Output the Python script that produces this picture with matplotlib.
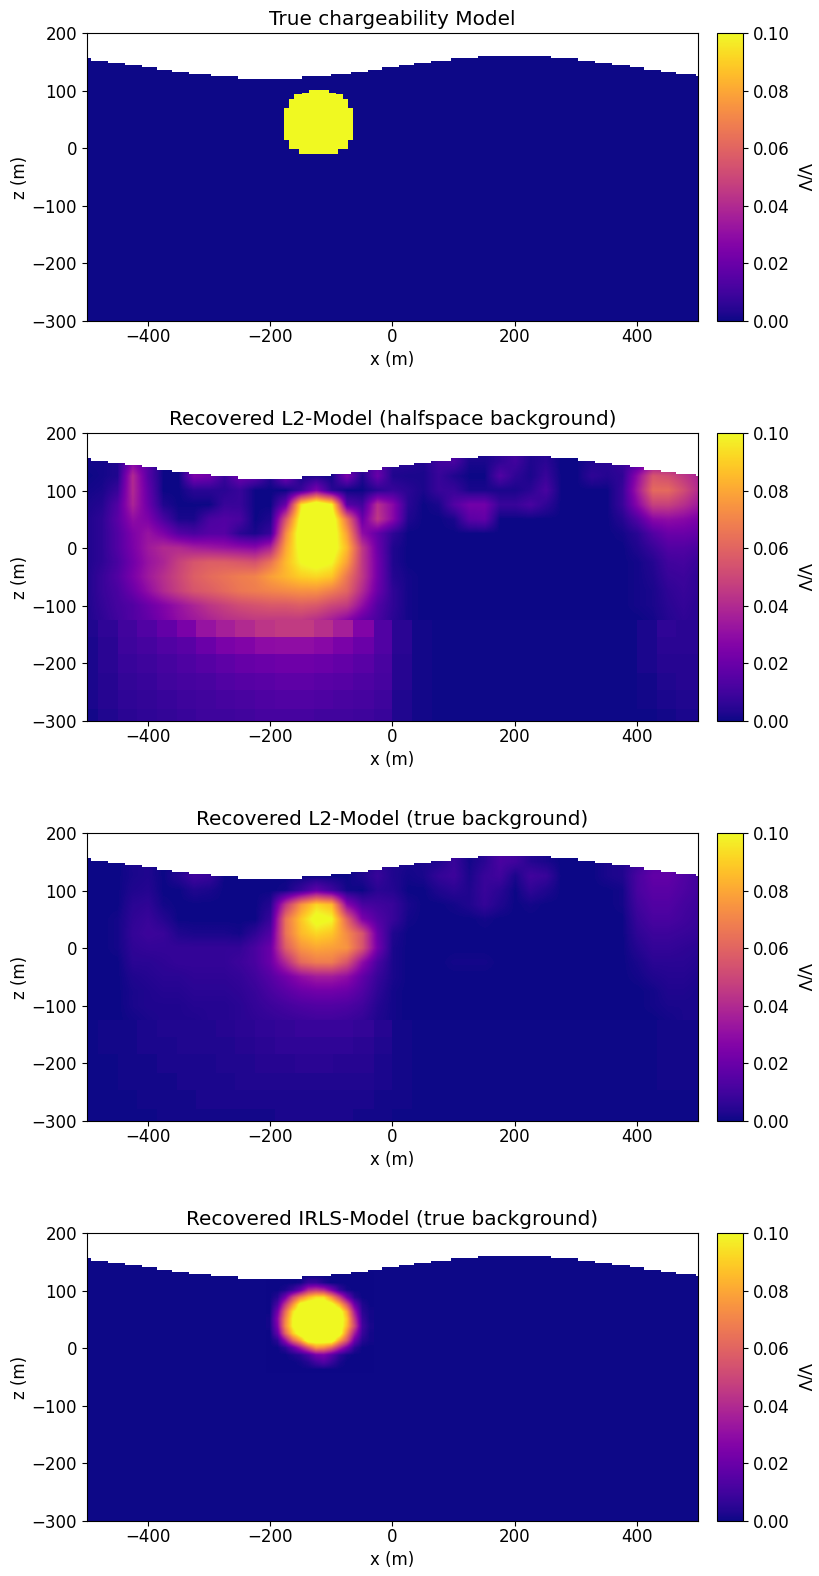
import numpy as np
import matplotlib
matplotlib.use('Agg')
import matplotlib.pyplot as plt

# all field values below are in units of 0.001 V/V
titles = ["True chargeability Model",
          "Recovered L2-Model (halfspace background)",
          "Recovered L2-Model (true background)",
          "Recovered IRLS-Model (true background)"]

# surface steps
topo_x = [-500, -493, -465, -437, -410, -385, -360, -333, -297, -253, -148, -101, -68, -40, -17,
          11, 35, 63, 96, 140, 259, 303, 331, 359, 388, 411, 439, 464, 496, 500]
topo_z = [157, 152, 149, 145, 142, 137, 133, 130, 125, 121, 125, 130, 133, 137, 142,
          145, 149, 152, 157, 161, 157, 152, 149, 145, 142, 137, 133, 130, 125]

# true body, one span per mesh row
body_z = [102, 97, 94, 90, 85, 69.5, 14, -1, -10]
body_left = [-137, -148, -161, -161, -169, -177, -169, -153]
body_right = [-104, -92, -81, -81, -73, -65, -73, -89]

# upper nodes: x -500..500 every 25 m, z 175..-125 every 25 m
l2_half_upper = [
    [1,1,3,25,15,0,0,10,10,5,5,5,0,0,0,0,0,0,10,15,5, 5,3,10,12,2,2,6,10,3,5,0,0,3,5,8,12,25,30,30,30],
    [1,1,3,25,15,0,0,10,10,5,5,5,0,0,0,0,0,0,10,15,5, 5,3,10,12,2,2,6,10,3,5,0,0,3,5,8,12,25,30,30,30],
    [0,1,3,40,15,0,0,25,22,8,22,18,4,25,2,3,1,25,3,20,3, 2,2,8,3,0,0,14,6,2,8,0,0,6,4,6,30,55,52,45,38],
    [1,2,8,40,18,0,0,5,5,5,8,0,0,0,8,25,5,0,0,5,8, 5,2,8,8,2,2,2,2,5,12,0,0,0,0,8,35,62,62,52,40],
    [2,4,14,38,20,3,0,0,0,8,8,0,0,20,95,115,100,15,10,42,28, 5,0,2,14,22,22,8,8,12,6,0,0,0,0,8,28,48,48,42,34],
    [3,6,16,30,25,12,2,2,12,14,12,0,3,55,105,115,110,65,20,45,28, 3,0,0,2,16,18,0,0,0,0,0,0,0,0,4,14,28,30,28,24],
    [3,6,14,25,32,25,15,12,15,15,5,2,8,72,110,115,110,78,30,18,6, 0,0,0,0,0,0,0,0,0,0,0,0,0,0,1,5,14,20,20,18],
    [3,6,14,24,34,40,40,36,34,32,30,28,38,80,105,115,108,85,45,20,3, 0,0,0,0,0,0,0,0,0,0,0,0,0,0,0,3,8,14,14,12],
    [3,6,12,22,32,38,48,55,58,58,56,54,65,85,100,105,100,78,45,22,3, 0,0,0,0,0,0,0,0,0,0,0,0,0,0,0,1,4,10,11,8],
    [3,8,14,24,34,42,50,58,62,65,68,70,78,84,90,92,88,66,45,22,4, 1,0,0,0,0,0,0,0,0,0,0,0,0,0,0,1,3,8,9,6],
    [3,8,12,20,30,40,48,55,58,62,66,68,70,72,74,74,68,60,40,20,6, 1,0,0,0,0,0,0,0,0,0,0,0,0,0,0,1,2,6,8,6],
    [3,7,11,14,20,26,32,38,44,48,52,54,56,56,58,56,50,46,30,14,6, 1,0,0,0,0,0,0,0,0,0,0,0,0,0,0,1,2,5,7,5],
    [3,6,10,14,18,24,30,34,38,42,44,46,46,46,46,42,36,28,18,12,5, 1,0,0,0,0,0,0,0,0,0,0,0,0,0,0,0,1,4,6,5],
]
l2_true_upper = [
    [0,0,0,2,3,0,0,3,3,0,0,0,0,0,0,0,0,0,2,5,3, 2,2,3,8,1,5,12,10,4,2,0,0,0,2,3,8,14,18,14,10],
    [0,0,0,2,3,0,0,3,3,0,0,0,0,0,0,0,0,0,2,5,3, 2,2,3,8,1,5,12,10,4,2,0,0,0,2,3,8,14,18,14,10],
    [0,0,0,2,3,0,4,10,8,0,0,0,0,0,0,0,0,0,3,8,3, 1,2,7,9,2,8,10,2,10,8,0,0,0,2,3,12,18,18,14,10],
    [0,0,0,3,4,0,0,3,2,0,0,0,0,1,8,18,10,1,0,5,4, 0,0,3,5,3,8,5,0,6,3,0,0,0,0,1,12,16,16,13,10],
    [0,0,0,5,6,1,0,0,0,0,0,0,4,45,75,92,85,28,12,10,8, 2,0,0,1,3,7,3,0,1,0,0,0,0,0,1,10,14,14,11,9],
    [0,0,1,6,8,4,0,0,0,0,0,0,8,65,88,105,100,60,25,14,8, 1,0,0,0,0,1,0,0,0,0,0,0,0,0,0,8,12,12,10,8],
    [0,0,1,7,9,8,3,2,2,2,1,6,14,65,85,92,88,72,55,20,3, 0,0,0,0,0,0,0,0,0,0,0,0,0,0,0,6,9,9,8,7],
    [0,0,1,6,7,7,7,7,7,7,7,12,20,58,75,80,78,75,55,22,2, 0,0,0,0,0,0,0,0,0,0,0,0,0,0,0,4,7,7,6,5],
    [0,0,0,5,5,6,7,7,7,7,9,12,20,40,62,68,68,55,30,12,2, 0,0,0,1,1,1,0,0,0,0,0,0,0,0,0,2,5,5,5,4],
    [0,0,0,3,4,5,5,6,6,6,7,10,15,22,30,35,35,30,18,8,2, 0,0,0,0,0,0,0,0,0,0,0,0,0,0,0,1,3,4,4,3],
    [0,0,0,2,3,4,4,5,5,5,6,8,12,16,20,22,22,20,14,6,1, 0,0,0,0,0,0,0,0,0,0,0,0,0,0,0,0,1,3,3,2],
    [0,0,0,2,3,3,3,4,4,4,5,7,9,11,13,14,14,13,10,4,1, 0,0,0,0,0,0,0,0,0,0,0,0,0,0,0,0,1,2,2,2],
    [0,0,0,1,2,3,3,3,4,4,5,6,7,8,9,10,10,9,7,3,1, 0,0,0,0,0,0,0,0,0,0,0,0,0,0,0,0,0,1,2,2],
]

# coarse padding cells below -125 m
deep_x = [-500, -481, -449, -417, -385, -353, -321, -289, -257, -225, -192, -160, -129, -97, -64, -31,
          0, 32, 64, 400, 432, 464, 500]
deep_z = [-125, -154, -184, -216, -247, -280, -300]
l2_half_deep = [
    [3,6,10,14,18,24,32,36,40,44,46,46,42,36,26,14, 5,1,0,2,6,5],
    [2,5,9,11,14,16,20,24,26,29,30,30,28,24,20,14, 5,1,0,2,5,5],
    [2,5,8,9,11,13,15,17,19,20,21,21,20,18,16,12, 4,1,0,2,4,4],
    [2,4,7,8,10,11,12,14,15,16,17,17,16,15,13,11, 4,1,0,1,3,4],
    [2,4,6,7,8,9,10,11,12,13,14,14,13,12,11,9, 3,1,0,1,2,3],
    [1,3,5,6,7,8,9,9,10,11,11,11,10,10,9,8, 3,1,0,0,1,2],
]
l2_true_deep = [
    [0,1,1,2,3,3,3,4,5,6,7,8,8,8,7,4, 1,0,0,0,1,1],
    [0,1,1,2,2,3,3,3,4,5,6,6,6,6,5,3, 1,0,0,0,1,1],
    [0,0,1,1,2,2,2,3,3,4,4,5,5,4,4,2, 1,0,0,0,1,1],
    [0,0,1,1,1,2,2,2,3,3,3,3,3,3,3,2, 1,0,0,0,1,1],
    [0,0,0,1,1,1,2,2,2,2,2,2,2,2,2,1, 1,0,0,0,0,0],
    [0,0,0,0,1,1,1,1,1,1,2,2,2,2,1,1, 0,0,0,0,0,0],
]

# IRLS blob: x -200..-37.5 every 12.5 m, z 125..-37.5 every 12.5 m
irls_patch = [
    [0,0,0,0,0,0,0,0,0,0,0,0,0,0],
    [0,0,0,0,1,8,8,3,0,0,0,0,0,0],
    [0,0,2,8,20,40,45,40,25,8,1,0,0,0],
    [0,4,22,50,70,85,95,95,75,50,22,4,0,0],
    [0,12,45,75,105,110,110,110,105,85,55,20,3,0],
    [0,22,62,95,110,110,110,110,110,110,80,35,5,1],
    [1,28,70,100,110,110,110,110,110,110,88,45,8,1],
    [1,25,72,100,110,110,110,110,110,110,85,50,10,2],
    [0,18,60,90,110,110,110,110,110,110,72,35,8,1],
    [0,5,30,60,80,110,110,110,110,80,55,20,4,1],
    [0,0,5,18,35,55,75,72,60,40,22,5,0,0],
    [0,0,0,2,5,12,22,24,16,6,1,0,0,0],
    [0,0,0,0,1,4,10,14,8,2,0,0,0,0],
    [0,0,0,0,0,0,0,0,0,0,0,0,0,0],
]

W, H = 820, 1576
plt.rcParams['font.size'] = 12
fig = plt.figure(figsize=(W/100, H/100), dpi=100)
cmap = 'plasma'
vmin, vmax = 0, 100
tops = [33.3, 433.3, 833.3, 1233.3]
panel_h = 287.5


def show_nodes(ax, values, x0, x1, z0, z1):
    # values sit on nodes, half a step is added so imshow centres them there
    arr = np.array(values, dtype=float)
    dx = (x1-x0)/(arr.shape[1]-1)
    dz = (z0-z1)/(arr.shape[0]-1)
    ax.imshow(arr, extent=[x0-dx/2, x1+dx/2, z1-dz/2, z0+dz/2], origin='upper', aspect='auto', cmap=cmap,
              vmin=vmin, vmax=vmax, interpolation='bilinear', interpolation_stage='data', zorder=1)


for i, top in enumerate(tops):
    ax = fig.add_axes([86.7/W, 1-(top+panel_h)/H, 611.6/W, panel_h/H])
    # halfspace background under everything
    ax.pcolormesh([-500, 500], [-300, 200], [[0]], cmap=cmap, vmin=vmin, vmax=vmax, zorder=0)
    if i == 0:
        for k in range(len(body_left)):
            ax.pcolormesh([body_left[k], body_right[k]], [body_z[k+1], body_z[k]], [[100]],
                          cmap=cmap, vmin=vmin, vmax=vmax, zorder=1)
    elif i == 3:
        show_nodes(ax, irls_patch, -200, -37.5, 125, -37.5)
    else:
        upper = l2_half_upper if i == 1 else l2_true_upper
        deep = l2_half_deep if i == 1 else l2_true_deep
        show_nodes(ax, upper, -500, 500, 175, -125)
        ax.pcolormesh(deep_x, deep_z, deep, cmap=cmap, vmin=vmin, vmax=vmax, zorder=2)

    # air above the surface, kept under the spines
    ax.fill_between(topo_x, topo_z + topo_z[-1:], 201, step='post', color='white', lw=0, zorder=2.2)
    ax.set_xlim(-500, 500)
    ax.set_ylim(-300, 200)
    ax.set_xticks([-400, -200, 0, 200, 400])
    ax.set_yticks([-300, -200, -100, 0, 100, 200])
    ax.tick_params(axis='x', pad=2)
    ax.set_title(titles[i], fontsize=14.4, pad=6)
    ax.set_xlabel('x (m)', labelpad=3)
    ax.set_ylabel('z (m)', labelpad=2)

    cax = fig.add_axes([716.7/W, 1-(top+panel_h)/H, 26.6/W, panel_h/H])
    sm = plt.cm.ScalarMappable(norm=plt.Normalize(0, 0.1), cmap=cmap)
    cb = fig.colorbar(sm, cax=cax, ticks=[0, 0.02, 0.04, 0.06, 0.08, 0.1], format='%.2f')
    cb.set_label('V/V', rotation=270, labelpad=16)

plt.savefig('out.png', dpi=100)
